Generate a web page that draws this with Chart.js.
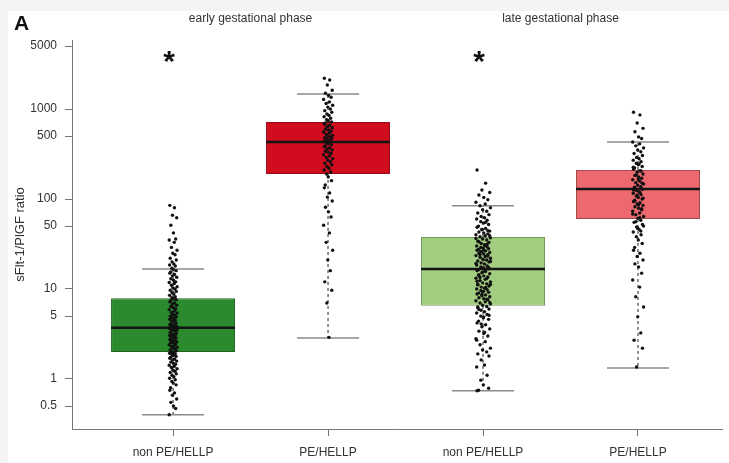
<!DOCTYPE html>
<html lang="en">
<head>
  <meta charset="UTF-8" />
  <title>sFlt-1/PlGF ratio by gestational phase</title>
  <script src="https://cdn.jsdelivr.net/npm/chart.js"></script>
  <style>
    html, body { margin: 0; padding: 0; background: #fff; }
  </style>
</head>
<body>
  <canvas id="ratioChart" width="729" height="463"></canvas>

  <script>
    // categories and box statistics
    const groups = ["non PE/HELLP", "PE/HELLP", "non PE/HELLP", "PE/HELLP"];
    const phases = ["early gestational phase", "late gestational phase"];
    const yTicks = [0.5, 1, 5, 10, 50, 100, 500, 1000, 5000];

    const lowerWhisker = [0.4, 2.85, 0.74, 1.32];
    const q1 = [2.0, 190, 6.5, 60];
    const median = [3.7, 430, 16.7, 129];
    const q3 = [7.9, 717, 37.8, 210];
    const upperWhisker = [16.7, 1470, 84, 430];
    const significant = [true, false, true, false];

    // individual patients
    const dotsEarlyNon = [85, 80, 66, 62, 51, 42, 36, 35, 33, 29, 27, 25, 24, 22, 21, 20, 19, 18.5, 18, 17,
      16.5, 16, 15.5, 15, 14.5, 14, 13.5, 13, 12.5, 12, 11.8, 11.5, 11, 10.6, 10.3, 10, 9.7, 9.4, 9.1, 8.8,
      8.5, 8.2, 8, 7.8, 7.6, 7.4, 7.2, 7, 6.8, 6.6, 6.4, 6.2, 6, 5.9, 5.7, 5.5, 5.4, 5.2, 5.1, 5,
      4.9, 4.8, 4.7, 4.6, 4.5, 4.4, 4.3, 4.2, 4.1, 4, 3.95, 3.9, 3.85, 3.8, 3.75, 3.7, 3.65, 3.6, 3.55, 3.5,
      3.45, 3.4, 3.3, 3.2, 3.15, 3.1, 3.05, 3, 2.95, 2.9, 2.85, 2.8, 2.75, 2.7, 2.65, 2.6, 2.55, 2.5, 2.45, 2.4,
      2.35, 2.3, 2.25, 2.2, 2.15, 2.1, 2.05, 2, 1.97, 1.93, 1.9, 1.86, 1.82, 1.78, 1.74, 1.7, 1.66, 1.62, 1.58, 1.54,
      1.5, 1.46, 1.42, 1.38, 1.34, 1.3, 1.26, 1.22, 1.18, 1.14, 1.1, 1.06, 1.02, 0.98, 0.94, 0.9, 0.86, 0.8, 0.75, 0.7,
      0.66, 0.6, 0.55, 0.5, 0.47, 0.4];
    const dotsEarlyPE = [2200, 2100, 1850, 1620, 1500, 1420, 1350, 1280, 1200, 1150, 1100, 1050, 1000, 960, 920,
      880, 850, 820, 790, 760, 740, 720, 700, 680, 660, 640, 620, 600, 585, 570, 555, 540, 525, 510, 500,
      490, 480, 470, 460, 450, 440, 430, 420, 410, 400, 390, 380, 370, 360, 350, 340, 330, 320, 310, 300,
      290, 280, 270, 260, 250, 240, 230, 220, 210, 200, 190, 176, 160, 143, 133, 117, 105, 95, 81, 72,
      63, 51, 42, 33, 27, 21, 16, 12, 9.7, 7, 2.9];
    const dotsLateNon = [210, 150, 126, 118, 111, 104, 98, 92, 88, 84, 80, 76, 73, 70, 67, 64, 62, 60, 58, 56,
      54, 52, 50, 48.5, 47, 45.5, 44, 43, 42, 41, 40, 39, 38, 37, 36, 35, 34, 33, 32, 31,
      30, 29.5, 29, 28.5, 28, 27.5, 27, 26.5, 26, 25.5, 25, 24.5, 24, 23.5, 23, 22.5, 22, 21.5, 21, 20.5,
      20, 19.5, 19, 18.5, 18, 17.6, 17.2, 16.8, 16.4, 16, 15.6, 15.2, 14.8, 14.4, 14, 13.6, 13.2, 12.8, 12.4, 12,
      11.7, 11.4, 11.1, 10.8, 10.5, 10.2, 10, 9.8, 9.6, 9.4, 9.2, 9, 8.8, 8.6, 8.4, 8.2, 8, 7.8, 7.6, 7.4,
      7.2, 7, 6.8, 6.6, 6.4, 6.2, 6, 5.8, 5.6, 5.4, 5.2, 5, 4.8, 4.6, 4.4, 4.2, 4, 3.8, 3.6, 3.4,
      3.2, 3, 2.8, 2.6, 2.4, 2.2, 2.1, 2, 1.9, 1.8, 1.63, 1.43, 1.36, 1.1, 0.97, 0.86, 0.79, 0.75, 0.74,
      55, 46, 39, 33.5, 27.2, 23.2, 19.2, 16.2, 13.4, 11.2, 9.3, 7.7, 6.3, 5.1, 4.1, 3.3, 2.7,
      31.5, 26.2, 21.2, 17.4, 14.2, 12.2, 10.4, 8.7, 7.1, 5.9, 4.9, 44.5, 36.5, 30.5, 24.2, 20.2, 15.4, 13.1, 11.3];
    const dotsLatePE = [920, 860, 700, 610, 560, 490, 470, 430, 410, 390, 370, 350, 335, 320, 305, 290, 280, 270,
      260, 250, 240, 230, 222, 214, 206, 198, 190, 183, 176, 170, 164, 158, 152, 147, 142, 137, 132, 128,
      124, 120, 116, 112, 108, 104, 100, 97, 94, 91, 88, 85, 82, 79, 76, 73, 70, 67, 64, 61, 58, 55,
      52, 49, 46, 43, 40, 38, 35, 32, 29, 27, 25, 23, 21, 19, 17.6, 15, 12.6, 10.5, 8.2, 6.3, 4.9,
      3.25, 2.7, 2.2, 1.36, 245, 225, 205, 185, 165, 150, 135, 126, 118, 110, 102, 95, 86, 78, 68, 62,
      56, 50, 47, 44];

    // look
    const boxFill = ["#2b8a2e", "#d10c1f", "#a3cd81", "#ec6a6f"];
    const boxEdge = ["#1d6420", "#8e0a15", "#73985a", "#a24a4d"];
    const jitter = [-0.8, 0.35, -0.15, 0.9, -0.55, 0.1, 0.65, -0.95, 0.3, -0.4, 1.0, -0.05,
      0.5, -0.7, 0.8, -0.25, 0.2, -0.85, 0.55, -0.3, 0.05, 0.75, -0.6];
    const spread = [0.026, 0.03, 0.048, 0.036];

    Chart.defaults.font.family = "'Liberation Sans', Arial, sans-serif";
    Chart.defaults.color = "#333";

    function segments(list) {
      const pts = [];
      list.forEach(([x1, y1, x2, y2]) => {
        pts.push({ x: x1, y: y1 }, { x: x2, y: y2 }, { x: x2, y: null });
      });
      return pts;
    }

    const dotData = [dotsEarlyNon, dotsEarlyPE, dotsLateNon, dotsLatePE].flatMap((vals, i) =>
      vals.map((v, k) => ({ x: i + 1 + jitter[k % jitter.length] * spread[i], y: v }))
    );

    const decorations = {
      id: "decorations",
      beforeDraw(chart) {
        const ctx = chart.ctx;
        ctx.save();
        ctx.fillStyle = "#f4f4f4";
        ctx.fillRect(0, 0, chart.width, 11);
        ctx.fillRect(0, 0, 8, chart.height);
        ctx.restore();
      },
      afterDraw(chart) {
        const ctx = chart.ctx;
        const xs = chart.scales.x, ys = chart.scales.y;
        ctx.save();
        ctx.fillStyle = "#111";
        ctx.font = "bold 21px 'Liberation Sans', Arial, sans-serif";
        ctx.textAlign = "left";
        ctx.textBaseline = "alphabetic";
        ctx.fillText("A", 14, 30);

        ctx.fillStyle = "#333";
        ctx.font = "12px 'Liberation Sans', Arial, sans-serif";
        ctx.textAlign = "center";
        phases.forEach((p, i) => {
          ctx.fillText(p, xs.getPixelForValue(2 * i + 1.5), 22);
        });

        ctx.fillStyle = "#111";
        ctx.font = "bold 30px 'Liberation Sans', Arial, sans-serif";
        significant.forEach((s, i) => {
          if (s) ctx.fillText("*", xs.getPixelForValue(i + 1) - 4, ys.getPixelForValue(3800) + 14);
        });
        ctx.restore();
      }
    };

    new Chart(document.getElementById("ratioChart"), {
      type: "scatter",
      data: {
        datasets: [
          {
            type: "scatter",
            data: dotData,
            pointRadius: 1.7,
            pointBorderWidth: 0,
            pointBackgroundColor: "#111",
            order: 0
          },
          {
            type: "line",
            data: segments(groups.map((g, i) => [i + 0.6, median[i], i + 1.4, median[i]])),
            borderColor: "#151515",
            borderWidth: 2.5,
            pointRadius: 0,
            spanGaps: false,
            order: 1
          },
          {
            type: "line",
            data: segments(groups.flatMap((g, i) => [
              [i + 0.8, upperWhisker[i], i + 1.2, upperWhisker[i]],
              [i + 0.8, lowerWhisker[i], i + 1.2, lowerWhisker[i]]
            ])),
            borderColor: "#8a8a8a",
            borderWidth: 1.5,
            pointRadius: 0,
            spanGaps: false,
            order: 2
          },
          {
            type: "line",
            data: segments(groups.flatMap((g, i) => [
              [i + 1, q3[i], i + 1, upperWhisker[i]],
              [i + 1, q1[i], i + 1, lowerWhisker[i]]
            ])),
            borderColor: "#222",
            borderWidth: 1,
            borderDash: [3, 3],
            pointRadius: 0,
            spanGaps: false,
            order: 3
          },
          {
            type: "bar",
            data: groups.map((g, i) => ({ x: i + 1, y: [q1[i], q3[i]] })),
            backgroundColor: boxFill,
            borderColor: boxEdge,
            borderWidth: 1,
            borderSkipped: false,
            categoryPercentage: 0.8,
            barPercentage: 1,
            order: 4
          }
        ]
      },
      options: {
        responsive: false,
        animation: false,
        events: [],
        layout: { padding: { top: 40, right: 7, bottom: 0, left: 0 } },
        plugins: {
          legend: { display: false },
          tooltip: { enabled: false }
        },
        scales: {
          x: {
            type: "linear",
            min: 0.348,
            max: 4.542,
            bounds: "data",
            offset: false,
            afterBuildTicks: s => { s.ticks = groups.map((g, i) => ({ value: i + 1 })); },
            afterFit: s => { s.height = 34; },
            ticks: {
              callback: v => groups[Math.round(v) - 1],
              padding: 9,
              color: "#333",
              font: { size: 12 },
              maxRotation: 0,
              autoSkip: false
            },
            grid: { drawOnChartArea: false, offset: false, tickLength: 7, color: "#777" },
            border: { color: "#777" }
          },
          y: {
            type: "logarithmic",
            min: 0.278,
            max: 5850,
            bounds: "data",
            afterBuildTicks: s => { s.ticks = yTicks.map(v => ({ value: v })); },
            afterFit: s => { s.width = 72; },
            ticks: {
              callback: v => String(v),
              padding: 8,
              color: "#333",
              font: { size: 12 },
              autoSkip: false
            },
            grid: { drawOnChartArea: false, tickLength: 7, color: "#777" },
            border: { color: "#777" },
            title: {
              display: true,
              text: "sFlt-1/PlGF ratio",
              color: "#333",
              font: { size: 13 },
              padding: { top: 13, bottom: 0 }
            }
          }
        }
      },
      plugins: [decorations]
    });
  </script>
</body>
</html>
